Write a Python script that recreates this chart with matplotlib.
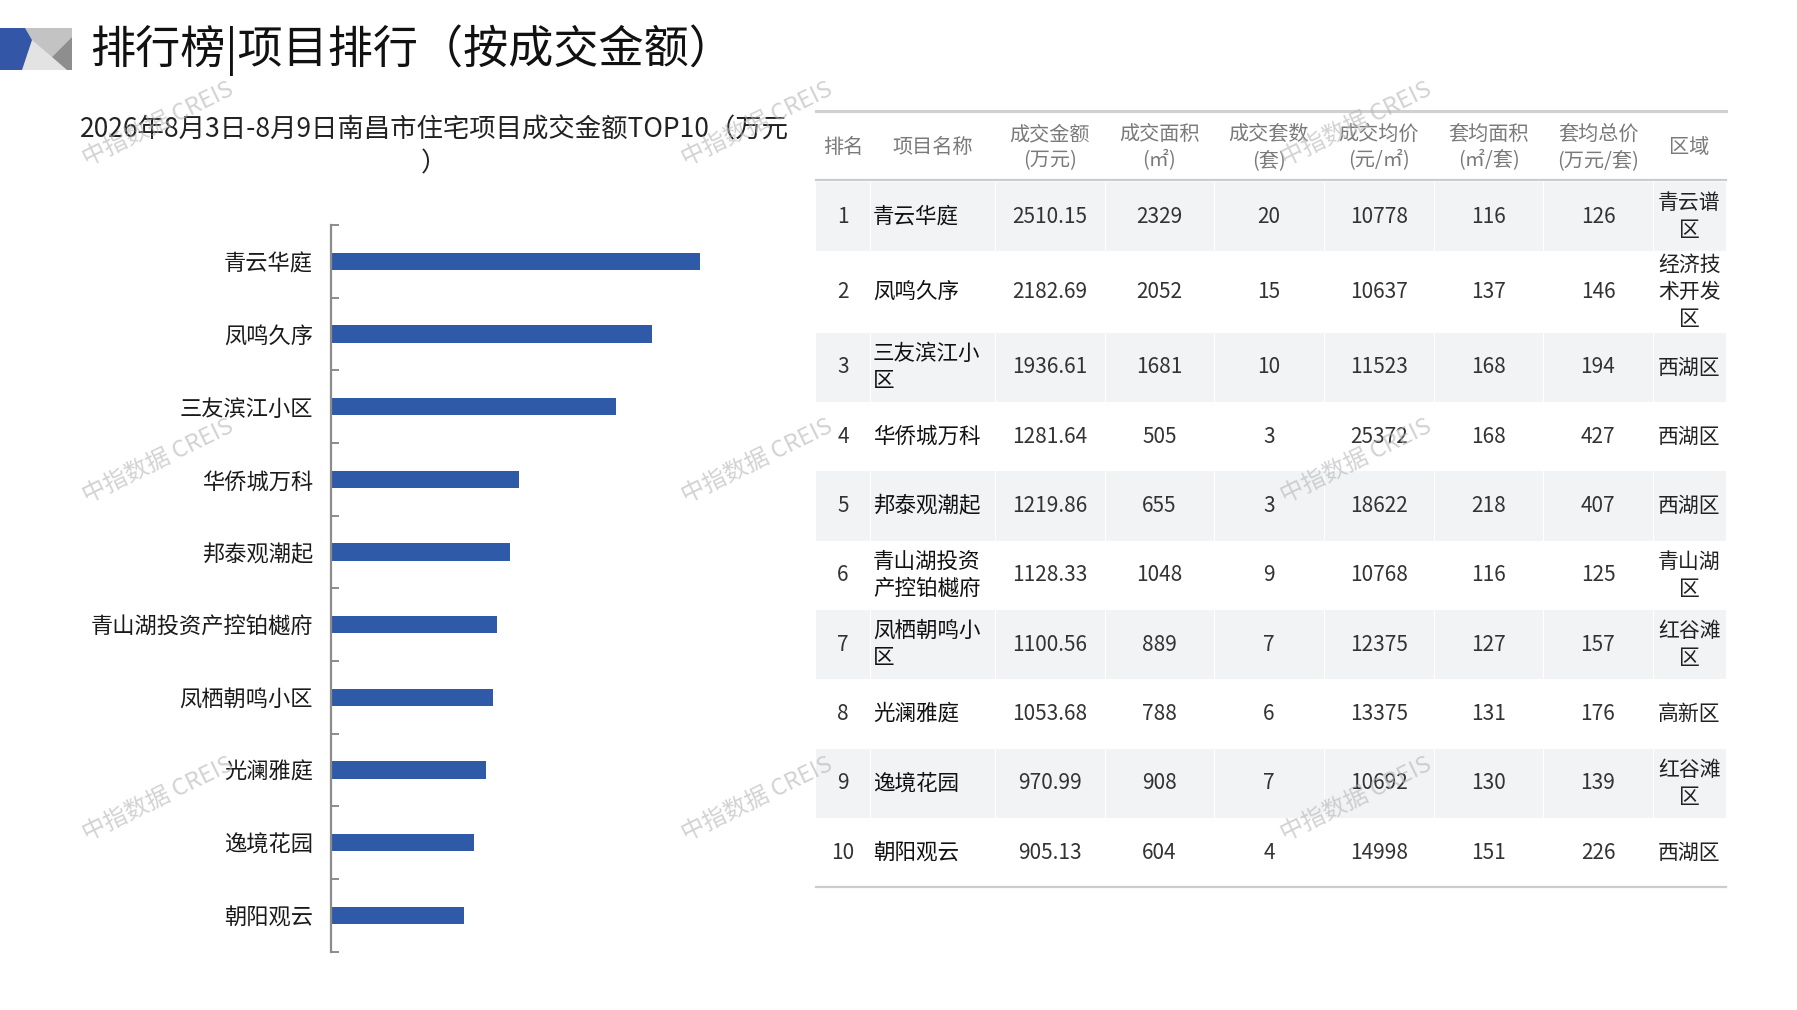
import matplotlib
matplotlib.use("Agg")
import matplotlib.pyplot as plt
from matplotlib.patches import Rectangle, Polygon

plt.rcParams['font.family'] = ['Noto Sans CJK SC', 'DejaVu Sans']

# ---------------- data ----------------
ranks = [1, 2, 3, 4, 5, 6, 7, 8, 9, 10]
projects = ["青云华庭", "凤鸣久序", "三友滨江小区", "华侨城万科", "邦泰观潮起",
            "青山湖投资产控铂樾府", "凤栖朝鸣小区", "光澜雅庭", "逸境花园", "朝阳观云"]
amounts = [2510.15, 2182.69, 1936.61, 1281.64, 1219.86, 1128.33, 1100.56, 1053.68, 970.99, 905.13]
areas = [2329, 2052, 1681, 505, 655, 1048, 889, 788, 908, 604]
units = [20, 15, 10, 3, 3, 9, 7, 6, 7, 4]
avg_prices = [10778, 10637, 11523, 25372, 18622, 10768, 12375, 13375, 10692, 14998]
avg_areas = [116, 137, 168, 168, 218, 116, 127, 131, 130, 151]
avg_totals = [126, 146, 194, 427, 407, 125, 157, 176, 139, 226]
districts = ["青云谱区", "经济技术开发区", "西湖区", "西湖区", "西湖区",
             "青山湖区", "红谷滩区", "高新区", "红谷滩区", "西湖区"]
headers = ["排名", "项目名称", "成交金额\n(万元)", "成交面积\n(㎡)", "成交套数\n(套)",
           "成交均价\n(元/㎡)", "套均面积\n(㎡/套)", "套均总价\n(万元/套)", "区域"]

title = "排行榜|项目排行（按成交金额）"
subtitle = "2026年8月3日-8月9日南昌市住宅项目成交金额TOP10（万元\n）"
watermark = "中指数据 CREIS"

W, H = 1797, 1010
fig = plt.figure(figsize=(W / 100, H / 100), dpi=100)
fig.patch.set_facecolor('white')

BLUE = '#2F5AA8'

# ---------------- bar chart ----------------
axl, axr, axt, axb = 331, 772, 225, 951.7
ax = fig.add_axes([axl / W, 1 - axb / H, (axr - axl) / W, (axb - axt) / H])
ypos = list(range(len(projects)))
ax.barh(ypos, amounts, height=0.24, color=BLUE, zorder=2)
ax.set_xlim(0, 3000)
ax.set_ylim(len(projects) - 0.5, -0.5)
for s in ['top', 'right', 'bottom']:
    ax.spines[s].set_visible(False)
ax.spines['left'].set_color('#8c8c8c')
ax.spines['left'].set_linewidth(1.6)
ax.set_xticks([])
ax.set_yticks(ypos)
ax.set_yticklabels(projects, fontsize=16, color='#1a1a1a')
ax.tick_params(axis='y', which='major', length=0, pad=13)
ax.set_yticks([i - 0.5 for i in range(len(projects) + 1)], minor=True)
ax.tick_params(axis='y', which='minor', direction='in', length=6, width=1.4, color='#8c8c8c')
ax.set_facecolor('none')

# ---------------- overlay (pixel coordinates) ----------------
ov = fig.add_axes([0, 0, 1, 1], zorder=5)
ov.set_xlim(0, W)
ov.set_ylim(H, 0)
ov.axis('off')
ov.patch.set_alpha(0)

# header decoration
ov.add_patch(Polygon([(22, 28), (72, 28), (72, 70), (22, 70)], closed=True, color='#e3e3e3', lw=0))
ov.add_patch(Polygon([(25, 28), (72, 28), (72, 37), (52, 57), (32, 40)], closed=True, color='#c3c3c3', lw=0))
ov.add_patch(Polygon([(72, 37), (52, 57), (67, 70), (72, 70)], closed=True, color='#8e8e8e', lw=0))
ov.add_patch(Polygon([(0, 28), (25, 28), (32, 40), (22, 70), (0, 70)], closed=True, color='#3356a6', lw=0))

ov.text(90, 50, title, fontsize=32.5, color='#111111', va='center', ha='left')
ov.text(434, 147, subtitle, fontsize=19, color='#222222', va='center', ha='center',
        linespacing=1.3)

# ---------------- table ----------------
col_edges = [816, 870, 995, 1105, 1214, 1324, 1434, 1543, 1653, 1726]
tab_top, head_bot, rows_top = 111, 180, 182


def wrap(s, n):
    return "\n".join(s[i:i + n] for i in range(0, len(s), n))


ov.plot([col_edges[0], col_edges[-1]], [tab_top, tab_top], color='#d0d0d0', lw=2.2)
ov.plot([col_edges[0], col_edges[-1]], [head_bot, head_bot], color='#cccccc', lw=1.6)

for j, htxt in enumerate(headers):
    cx = (col_edges[j] + col_edges[j + 1]) / 2
    ov.text(cx, (tab_top + head_bot) / 2 + 2, htxt, fontsize=14.5, color='#7a7a7a',
            ha='center', va='center', linespacing=1.3)

y = rows_top
for i in range(len(ranks)):
    name_t = wrap(projects[i], 5)
    dist_t = wrap(districts[i], 3)
    nlines = max(name_t.count("\n"), dist_t.count("\n")) + 1
    rh = 81.5 if nlines >= 3 else 69.3
    if i % 2 == 0:
        for j in range(len(col_edges) - 1):
            ov.add_patch(Rectangle((col_edges[j] + (1 if j > 0 else 0), y), col_edges[j + 1] - col_edges[j] - (1 if j > 0 else 0),
                                   rh, facecolor='#f2f3f5', edgecolor='none', zorder=0))
    cy = y + rh / 2
    vals = [str(ranks[i]), None, f"{amounts[i]:.2f}", str(areas[i]), str(units[i]),
            str(avg_prices[i]), str(avg_areas[i]), str(avg_totals[i]), None]
    for j, v in enumerate(vals):
        cx = (col_edges[j] + col_edges[j + 1]) / 2
        if j == 1:
            ov.text(col_edges[1] + 3, cy, name_t, fontsize=15.5, color='#111111', ha='left',
                    va='center', linespacing=1.3, fontweight='medium')
        elif j == 8:
            ov.text(cx, cy, dist_t, fontsize=15, color='#222222', ha='center', va='center',
                    linespacing=1.3)
        else:
            ov.text(cx, cy, v, fontsize=15, color='#333333', ha='center', va='center')
    y += rh

ov.plot([col_edges[0], col_edges[-1]], [y, y], color='#cccccc', lw=1.6)

# ---------------- watermarks ----------------
for wy in [124, 461, 799]:
    for wx in [158, 757, 1356]:
        ov.text(wx, wy, watermark, fontsize=17, color='#b5b5b5', alpha=0.6, rotation=26,
                ha='center', va='center', zorder=10)

fig.savefig('out.png', dpi=100, facecolor='white')
